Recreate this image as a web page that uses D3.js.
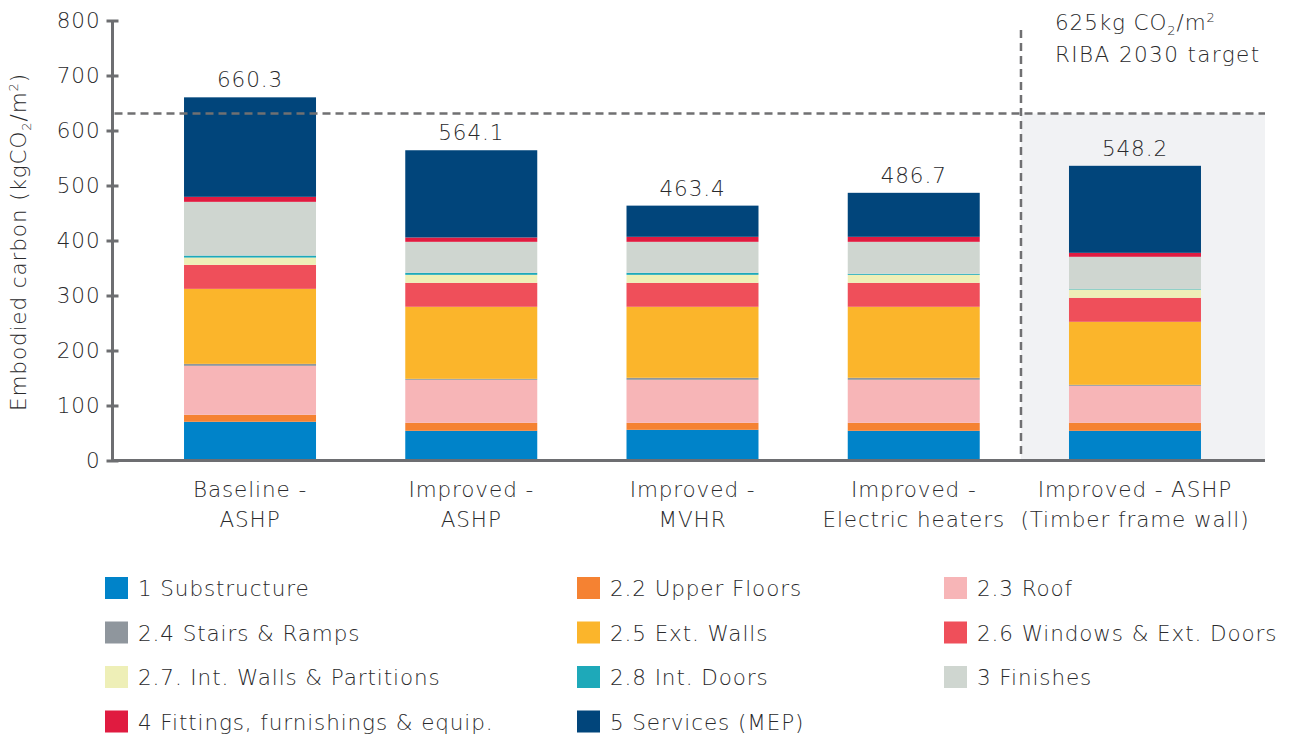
<!DOCTYPE html>
<html>
<head>
<meta charset="utf-8">
<script src="https://cdn.jsdelivr.net/npm/d3@7/dist/d3.min.js"></script>
<style>
  html, body { margin: 0; padding: 0; background: #ffffff; }
  svg text { font-family: "DejaVu Sans", "Open Sans", sans-serif; font-weight: 200; fill: #2a2a2c; letter-spacing: 0.9px; }
</style>
</head>
<body>
<svg id="chart" width="1293" height="738"></svg>
<script>
// ---------- DATA ----------
const categories = [
  ["Baseline -", "ASHP"],
  ["Improved -", "ASHP"],
  ["Improved -", "MVHR"],
  ["Improved -", "Electric heaters"],
  ["Improved - ASHP", "(Timber frame wall)"]
];
const totalLabels = ["660.3", "564.1", "463.4", "486.7", "548.2"];
const seriesNames = [
  "1 Substructure", "2.2 Upper Floors", "2.3 Roof",
  "2.4 Stairs & Ramps", "2.5 Ext. Walls", "2.6 Windows & Ext. Doors",
  "2.7. Int. Walls & Partitions", "2.8 Int. Doors", "3 Finishes",
  "4 Fittings, furnishings & equip.", "5 Services (MEP)"
];
const seriesColors = [
  "#0083c9", "#f58232", "#f7b5b7",
  "#8f969d", "#fbb52b", "#ef4f5a",
  "#eeefb7", "#1ea9b9", "#cfd6d0",
  "#e01b40", "#01457b"
];
// values per series, one per category
const substructure = [70.4, 54.0, 55.8, 54.0, 54.0];
const upperFloors  = [12.7, 14.5, 12.7, 14.5, 14.5];
const roof         = [89.0, 78.2, 78.2, 78.2, 67.3];
const stairs       = [3.6, 1.8, 3.7, 3.7, 1.8];
const extWalls     = [136.4, 131.0, 129.1, 129.1, 114.6];
const windows      = [43.6, 43.6, 43.6, 43.6, 43.6];
const intWalls     = [13.3, 14.5, 14.5, 14.5, 15.2];
const intDoors     = [3.6, 3.7, 3.7, 1.9, 1.2];
const finishes     = [97.7, 56.3, 56.3, 58.1, 58.2];
const fittings     = [9.1, 7.9, 9.1, 9.1, 7.2];
const services     = [180.9, 158.6, 56.7, 80.0, 158.2];
const yTicks = [0, 100, 200, 300, 400, 500, 600, 700, 800];
const targetValue = 631;

// ---------- LAYOUT ----------
const seriesValues = [substructure, upperFloors, roof, stairs, extWalls, windows,
  intWalls, intDoors, finishes, fittings, services];
const keys = seriesNames;
const rows = categories.map((c, i) => {
  const r = { cat: i };
  keys.forEach((k, j) => r[k] = seriesValues[j][i]);
  return r;
});
const stack = d3.stack().keys(keys)(rows);

const svg = d3.select("#chart");
const axisColor = "#6d6e71";
const FS = 21.5;
const y = d3.scaleLinear().domain([0, 800]).range([460.5, 20.5]);
const x = d3.scaleBand().domain(d3.range(categories.length))
  .range([139.4, 1245.6]).paddingInner(0.4034).paddingOuter(0.2017);
const axisRight = 1265;
const axisLeft = 112.5;

// shaded region for timber frame
const divX = x(4) - 48;
svg.append("rect")
  .attr("x", divX).attr("y", y(targetValue))
  .attr("width", axisRight - divX).attr("height", y(0) - y(targetValue))
  .attr("fill", "#f1f2f4");

// bars
const color = d3.scaleOrdinal().domain(keys).range(seriesColors);
svg.append("g").selectAll("g").data(stack).join("g")
  .attr("fill", d => color(d.key))
  .selectAll("rect").data(d => d).join("rect")
  .attr("x", d => x(d.data.cat))
  .attr("width", x.bandwidth())
  .attr("y", d => y(d[1]))
  .attr("height", d => y(d[0]) - y(d[1]));

// target line
svg.append("line")
  .attr("x1", axisLeft + 2).attr("x2", axisRight)
  .attr("y1", y(targetValue)).attr("y2", y(targetValue))
  .attr("stroke", "#707072").attr("stroke-width", 2.5)
  .attr("stroke-dasharray", "8,5");
svg.append("line")
  .attr("x1", divX).attr("x2", divX)
  .attr("y1", 30).attr("y2", y(0))
  .attr("stroke", "#707072").attr("stroke-width", 2.5)
  .attr("stroke-dasharray", "8,5");

// y axis
const yAxis = d3.axisLeft(y).tickValues(yTicks).tickSize(6).tickPadding(8);
const gy = svg.append("g").attr("transform", `translate(${axisLeft},0)`).call(yAxis);
gy.select(".domain").attr("stroke", axisColor).attr("stroke-width", 3)
  .attr("d", `M0,${y(800)}V${y(0)}`);
gy.selectAll(".tick line").attr("stroke", axisColor).attr("stroke-width", 3)
  .attr("x1", 6).attr("x2", -6);
gy.selectAll(".tick text").attr("font-size", FS).attr("fill", "#2a2a2c")
  .attr("font-family", null).attr("x", -12);

// x axis baseline
svg.append("line")
  .attr("x1", axisLeft).attr("x2", axisRight)
  .attr("y1", y(0)).attr("y2", y(0))
  .attr("stroke", axisColor).attr("stroke-width", 3);

// x labels
categories.forEach((lines, i) => {
  const t = svg.append("text")
    .attr("text-anchor", "middle").attr("font-size", FS)
    .attr("x", x(i) + x.bandwidth() / 2).attr("y", 497);
  lines.forEach((l, k) => t.append("tspan")
    .attr("x", x(i) + x.bandwidth() / 2).attr("dy", k === 0 ? 0 : 30).text(l));
});

// total labels
const totals = rows.map((r, i) => d3.sum(seriesValues, s => s[i]));
svg.append("g").selectAll("text").data(totalLabels).join("text")
  .attr("text-anchor", "middle").attr("font-size", FS)
  .attr("x", (d, i) => x(i) + x.bandwidth() / 2)
  .attr("y", (d, i) => y(totals[i]) - 10)
  .text(d => d);

// y title
const yt = svg.append("text")
  .attr("transform", "translate(26,242) rotate(-90)")
  .attr("text-anchor", "middle").attr("font-size", FS);
yt.append("tspan").text("Embodied carbon (kgCO");
yt.append("tspan").attr("font-size", 13).attr("dy", 5).text("2");
yt.append("tspan").attr("dy", -5).text("/m");
yt.append("tspan").attr("font-size", 13).attr("dy", -8).text("2");
yt.append("tspan").attr("dy", 8).text(")");

// annotation
const an = svg.append("text").attr("x", 1055).attr("y", 30).attr("font-size", FS);
an.append("tspan").text("625kg CO");
an.append("tspan").attr("font-size", 13).attr("dy", 5).text("2");
an.append("tspan").attr("dy", -5).text("/m");
an.append("tspan").attr("font-size", 13).attr("dy", -8).text("2");
svg.append("text").attr("x", 1055).attr("y", 62).attr("font-size", FS)
  .style("letter-spacing", "1.4px").text("RIBA 2030 target");

// legend
const legCols = [105, 577, 944];
const legend = svg.append("g").selectAll("g").data(seriesNames).join("g")
  .attr("transform", (d, i) => `translate(${legCols[i % 3]},${577 + Math.floor(i / 3) * 44.5})`);
legend.append("rect").attr("width", 23).attr("height", 22).attr("fill", (d, i) => seriesColors[i]);
legend.append("text").attr("x", 33).attr("y", 19).attr("font-size", FS).text(d => d);
</script>
</body>
</html>
